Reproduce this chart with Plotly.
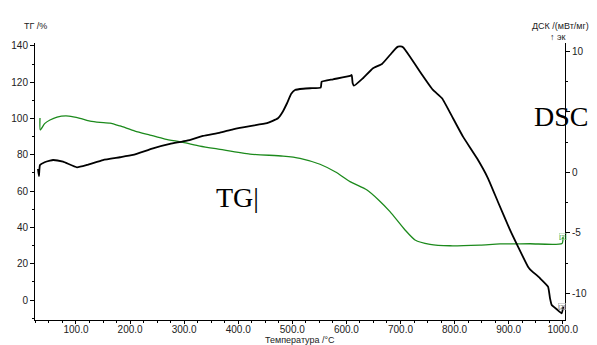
import plotly.graph_objects as go

# TG (green, left axis, %)
tg_temp = [33.4, 34.0, 42.0, 51.9, 65.0, 81.5, 95.0, 107.4, 125.9, 144.4, 162.9, 181.4, 209.1, 236.8, 264.6,
           297.9, 329.3, 366.3, 421.7, 482.8, 514.2, 551.2, 580.0, 606.7, 638.1, 660.0, 680.6, 708.4,
           726.9, 754.6, 791.6, 847.1, 884.0, 939.5, 998.7, 1000.5]
tg_vals = [100.3, 93.7, 97.2, 99.2, 100.8, 101.4, 100.9, 100.1, 98.6, 97.9, 97.5, 95.9, 93.1, 90.9, 88.7,
           86.9, 84.8, 83.0, 80.4, 79.3, 78.1, 74.8, 70.5, 65.2, 60.6, 55.0, 48.7, 38.6,
           33.1, 30.7, 29.9, 30.3, 30.9, 31.0, 31.2, 34.9]

# DSC (black, right axis, mW/mg)
dsc_temp = [29.7, 31.5, 33.4, 42.0, 51.9, 57.5, 76.0, 101.8, 120.3, 149.9, 181.4, 205.4, 242.4,
            273.8, 305.3, 334.8, 366.3, 390.3, 421.7, 453.2, 473.5, 482.0, 490.2, 498.0, 505.0, 520.0, 532.7,
            552.5, 553.5, 554.3, 575.2, 606.7, 609.8, 610.8, 611.6, 614.1, 630.7, 649.2, 665.8, 680.6,
            690.0, 695.4, 700.0, 704.7, 717.6, 736.1, 760.1, 776.8, 797.1, 815.6, 841.5, 861.8, 880.3,
            902.5, 917.3, 935.8, 939.5, 958.0, 972.8, 976.5, 979.6, 988.9, 998.1, 1001.1]
dsc_vals = [0.3, -0.3, 0.62, 0.85, 0.98, 1.03, 0.89, 0.43, 0.62, 1.03, 1.26, 1.45, 2.0,
            2.36, 2.63, 3.02, 3.29, 3.57, 3.84, 4.07, 4.48, 5.0, 5.72, 6.5, 6.82, 6.92, 6.96,
            7.01, 7.30, 7.50, 7.70, 7.98, 8.06, 7.70, 7.37, 7.17, 7.79, 8.61, 8.97, 9.71,
            10.20, 10.40, 10.42, 10.35, 9.57, 8.33, 6.82, 6.13, 4.48, 2.96, 1.17, -0.48, -2.44,
            -4.75, -6.13, -7.79, -8.0, -8.74, -9.44, -10.40, -10.95, -11.30, -11.64, -11.09]

x_ticks = [100, 200, 300, 400, 500, 600, 700, 800, 900, 1000]
x_tick_labels = ["100.0", "200.0", "300.0", "400.0", "500.0", "600.0", "700.0", "800.0", "900.0", "1000.0"]
tg_ticks = [0, 20, 40, 60, 80, 100, 120, 140]
dsc_ticks = [-10, -5, 0, 5, 10]
dsc_tick_labels = ["-10", "-5", "0", "", "10"]

fig = go.Figure()
fig.add_trace(go.Scatter(x=tg_temp, y=tg_vals, mode="lines", yaxis="y",
                         line=dict(color="#1c8a1c", width=1.3, shape="spline", smoothing=0.6),
                         showlegend=False))
fig.add_trace(go.Scatter(x=dsc_temp, y=dsc_vals, mode="lines", yaxis="y2",
                         line=dict(color="#000000", width=1.8, shape="spline", smoothing=0.4),
                         showlegend=False))

tickfont = dict(family="Liberation Sans, Arial", size=10, color="#222222")

fig.update_layout(
    width=597, height=345,
    margin=dict(l=35, r=32, t=43, b=25, autoexpand=False),
    paper_bgcolor="white", plot_bgcolor="white",
    xaxis=dict(range=[24.2, 1004.2], tickvals=x_ticks, ticktext=x_tick_labels,
               showline=True, linecolor="black", linewidth=1, ticks="outside",
               ticklen=3, tickcolor="black", showgrid=False, zeroline=False,
               tickfont=tickfont, automargin=False, ticklabelstandoff=-3,
               minor=dict(dtick=25, ticks="outside", ticklen=2, tickcolor="black")),
    yaxis=dict(range=[-11.0, 141.6], tickvals=tg_ticks, showline=True, linecolor="black",
               linewidth=1, ticks="outside", ticklen=4, tickcolor="black",
               showgrid=False, zeroline=False, tickfont=tickfont, automargin=False,
               minor=dict(dtick=10, ticks="outside", ticklen=2, tickcolor="black")),
    yaxis2=dict(range=[-12.19, 10.70], tickvals=dsc_ticks, ticktext=dsc_tick_labels,
                overlaying="y", side="right", showline=True, linecolor="black",
                linewidth=1, ticks="outside", ticklen=4, tickcolor="black",
                showgrid=False, zeroline=False, tickfont=tickfont, automargin=False,
                minor=dict(dtick=2.5, ticks="outside", ticklen=2, tickcolor="black")),
)

ann_font = dict(family="Liberation Sans, Arial", size=9, color="#222222")
fig.add_annotation(text="ТГ /%", xref="paper", yref="paper", x=0.0, y=1.061,
                   showarrow=False, font=ann_font, xanchor="center", yanchor="middle")
fig.add_annotation(text="ДСК /(мВт/мг)", xref="paper", yref="paper", x=0.992, y=1.061,
                   showarrow=False, font=ann_font, xanchor="center", yanchor="middle")
fig.add_annotation(text="↑ эк", xref="paper", yref="paper", x=1.005, y=1.022,
                   showarrow=False, font=ann_font, xanchor="right", yanchor="middle")
fig.add_annotation(text="Температура /°C", xref="paper", yref="paper", x=0.5, y=-0.074,
                   showarrow=False, font=ann_font, xanchor="center", yanchor="middle")
fig.add_annotation(text="DSC", xref="paper", yref="paper", x=0.993, y=0.736,
                   showarrow=False, xanchor="center", yanchor="middle",
                   font=dict(family="Liberation Serif, Times New Roman", size=28, color="black"))
fig.add_annotation(text="TG|", xref="paper", yref="paper", x=0.383, y=0.444,
                   showarrow=False, xanchor="center", yanchor="middle",
                   font=dict(family="Liberation Serif, Times New Roman", size=28, color="black"))
fig.add_annotation(text="[2]", xref="paper", yref="paper", x=0.996, y=0.30,
                   showarrow=False, xanchor="center", yanchor="middle", borderpad=0,
                   bordercolor="#9fd49f", borderwidth=0.5,
                   font=dict(family="Liberation Sans, Arial", size=6, color="#2a9a2a"))
fig.add_annotation(text="[2]", xref="paper", yref="paper", x=0.994, y=0.05,
                   showarrow=False, xanchor="center", yanchor="middle", borderpad=0,
                   bordercolor="#aaaaaa", borderwidth=0.5,
                   font=dict(family="Liberation Sans, Arial", size=6, color="#666666"))

fig.write_html("out.html", config={"displayModeBar": False},
               post_script="document.body.style.margin='0';document.body.style.overflow='hidden';")
